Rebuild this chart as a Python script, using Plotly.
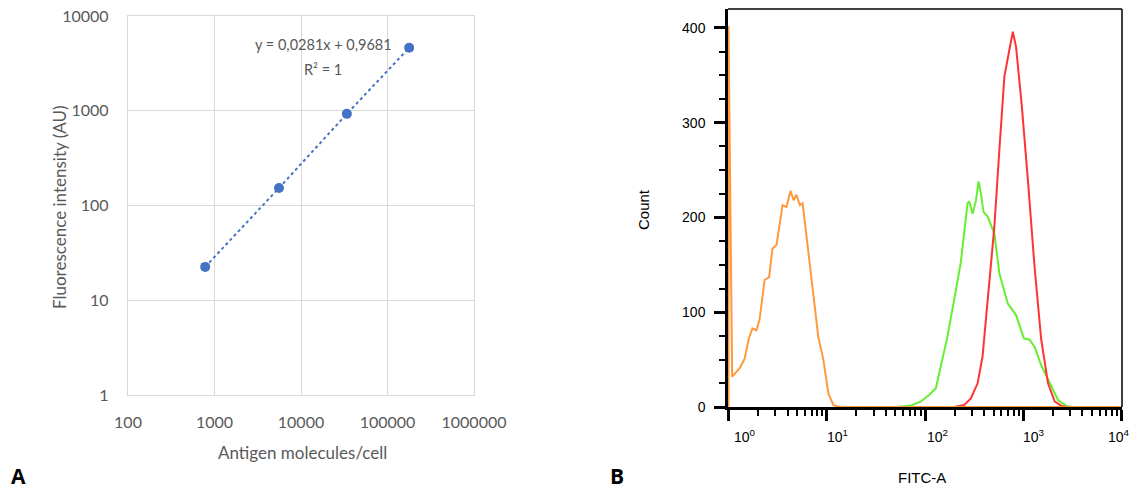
import math
import plotly.graph_objects as go

# ---- Panel A data ----
antigen = [780, 5570, 33900, 178000]
fluor = [22.5, 153, 927, 4620]
a_xticks = [100, 1000, 10000, 100000, 1000000]
a_xtext = ["100", "1000", "10000", "100000", "1000000"]
a_yticks = [1, 10, 100, 1000, 10000]
a_ytext = ["1", "10", "100", "1000", "10000"]

# ---- Panel B data (FITC-A histograms) ----
orange_x = [1.0, 1.0, 1.09, 1.30, 1.46, 1.61, 1.75, 1.92, 2.07, 2.33, 2.59, 2.80, 3.08, 3.55, 3.89,
            4.27, 4.62, 4.90, 5.33, 5.68, 6.46, 7.29, 8.20, 9.23, 10.4, 11.7, 13.7, 10000]
orange_y = [0, 402, 32, 41, 51, 72, 83, 81, 92, 134, 137, 167, 171, 213, 211,
            228, 218, 224, 213, 215, 166, 120, 74, 50, 14, 2, 0, 0]
green_x = [52, 71.3, 90.2, 110, 129, 145, 169, 198, 231, 250, 271, 282, 305, 330, 351, 371, 394,
           434, 469, 508, 571, 697, 845, 914, 1014, 1159, 1303, 1524, 1854, 2259, 2748, 3162]
green_y = [0, 1.5, 5.6, 12.7, 19.7, 42.6, 74, 113, 152, 183, 215, 217, 204, 218, 238, 225, 206,
           201, 192, 183, 141, 109, 97, 86.5, 72.5, 71, 63.6, 44, 25, 7.4, 1, 0]
red_x = [198, 250, 293, 343, 385, 434, 508, 571, 643, 706, 783, 845, 968, 1114, 1303, 1524, 1786,
         2089, 2455, 2818]
red_y = [0, 2, 9, 25, 53, 113, 190, 271, 349, 371.5, 396, 380, 317, 240, 148, 71, 25, 6, 1, 0]
b_xticks = [1, 10, 100, 1000, 10000]
b_xtext = ["10<sup>0</sup>", "10<sup>1</sup>", "10<sup>2</sup>", "10<sup>3</sup>", "10<sup>4</sup>"]
b_xminor = [m * d for d in [1, 10, 100, 1000] for m in range(2, 10)]
b_yticks = [0, 100, 200, 300, 400]
b_label_shift = [17, 11, 12, 11, -3]  # label offsets (px) from their tick, as in the original

W, H = 1130, 490
def px(x):
    return x / W
def py(y):
    return 1 - y / H

GRAY = "#595959"
GRID = "#d9d9d9"
BLUE = "#4472C4"
FA = "Lato, 'Open Sans', sans-serif"
FB = "'Liberation Sans', Arial, sans-serif"

fig = go.Figure()

fig.add_trace(go.Scatter(
    x=antigen, y=fluor, mode="lines", line=dict(color=BLUE, width=2, dash="dot"),
    xaxis="x", yaxis="y", showlegend=False, hoverinfo="skip"))
fig.add_trace(go.Scatter(
    x=antigen, y=fluor, mode="markers", marker=dict(color=BLUE, size=10),
    xaxis="x", yaxis="y", showlegend=False))

fig.add_trace(go.Scatter(x=green_x, y=green_y, mode="lines", line=dict(color="#66ee33", width=2),
                         xaxis="x2", yaxis="y2", showlegend=False))
fig.add_trace(go.Scatter(x=red_x, y=red_y, mode="lines", line=dict(color="#ff3333", width=2),
                         xaxis="x2", yaxis="y2", showlegend=False))
fig.add_trace(go.Scatter(x=orange_x, y=orange_y, mode="lines", line=dict(color="#ff9a3c", width=2),
                         xaxis="x2", yaxis="y2", showlegend=False))


def note(text, x, y, size, color, family, angle=0):
    return dict(text=text, xref="paper", yref="paper", x=px(x), y=py(y),
                xanchor="center", yanchor="middle", showarrow=False, textangle=angle,
                font=dict(family=family, size=size, color=color))


annotations = [
    note("Antigen molecules/cell", 302, 452, 17, GRAY, FA),
    note("Fluorescence intensity (AU)", 60, 207, 17, GRAY, FA, angle=-90),
    note("y = 0,0281x + 0,9681", 323, 45, 14.5, GRAY, FA),
    note("R² = 1", 323, 69, 14.5, GRAY, FA),
    note("Count", 643, 210, 15, "black", FB, angle=-90),
    note("FITC-A", 922, 477, 15, "black", FB),
    note("<b>A</b>", 18, 476, 21, "black", "'Open Sans', sans-serif"),
    note("<b>B</b>", 617, 476, 21, "black", "'Open Sans', sans-serif"),
]
for v, t, s in zip(b_xticks, b_xtext, b_label_shift):
    annotations.append(dict(text=t, xref="x2", yref="paper", x=math.log10(v), y=py(436),
                            xanchor="center", yanchor="middle", xshift=s, showarrow=False,
                            font=dict(family=FB, size=14, color="black")))

fig.update_layout(
    width=W, height=H, margin=dict(l=0, r=0, t=0, b=0, autoexpand=False),
    paper_bgcolor="white", plot_bgcolor="white",
    xaxis=dict(
        type="log", range=[2, 6], domain=[px(128), px(474)], anchor="y", automargin=False,
        tickvals=a_xticks, ticktext=a_xtext, showgrid=True, gridcolor=GRID, gridwidth=1.3,
        showline=True, linecolor=GRID, linewidth=1.3, mirror=True, zeroline=False,
        ticks="", tickfont=dict(family=FA, size=16, color=GRAY), ticklabelstandoff=13,
    ),
    yaxis=dict(
        type="log", range=[0, 4], domain=[py(395), py(16)], anchor="x", automargin=False,
        tickvals=a_yticks, ticktext=a_ytext, showgrid=True, gridcolor=GRID, gridwidth=1.3,
        showline=True, linecolor=GRID, linewidth=1.3, mirror=True, zeroline=False,
        ticks="", tickfont=dict(family=FA, size=16, color=GRAY), ticklabelstandoff=15,
    ),
    xaxis2=dict(
        type="log", range=[-0.005, 4.005], domain=[px(728), px(1122)], anchor="y2", automargin=False,
        tickvals=b_xticks, showticklabels=False, showgrid=False, zeroline=False,
        showline=True, linecolor="black", linewidth=2.5,
        ticks="outside", ticklen=11, tickwidth=2.5, tickcolor="black",
        minor=dict(tickmode="array", tickvals=b_xminor, ticks="outside", ticklen=6, tickwidth=2,
                   tickcolor="black", showgrid=False),
    ),
    yaxis2=dict(
        range=[0, 420], domain=[py(407), py(9)], anchor="x2", automargin=False,
        tickvals=b_yticks, showgrid=False, zeroline=False,
        showline=True, linecolor="black", linewidth=2.5,
        ticks="outside", ticklen=11, tickwidth=2.5, tickcolor="black",
        minor=dict(dtick=25, ticks="outside", ticklen=6, tickwidth=2, tickcolor="black", showgrid=False),
        tickfont=dict(family=FB, size=14, color="black"), ticklabelstandoff=6,
    ),
    shapes=[
        dict(type="line", xref="x2 domain", yref="y2 domain", x0=0, x1=1, y0=1, y1=1,
             line=dict(color="black", width=1.5)),
        dict(type="line", xref="x2 domain", yref="y2 domain", x0=1, x1=1, y0=0, y1=1,
             line=dict(color="black", width=1.5)),
    ],
    annotations=annotations,
)

fig.write_html("out.html")
